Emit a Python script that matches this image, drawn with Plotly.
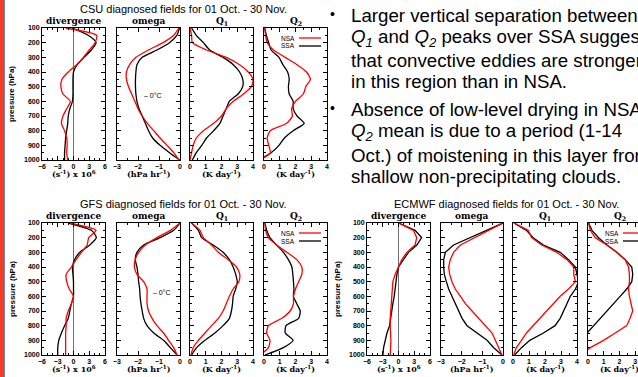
import plotly.graph_objects as go

# ---------------- data ----------------
PRESSURE = [100, 150, 200, 250, 300, 350, 400, 450, 500, 550,
            600, 650, 700, 750, 800, 850, 900, 950, 1000]

# CSU
CSU_DIV_NSA = [-1.5, 4.4, 4.1, 3.0, 1.9, 0.6, -1.0, -2.2, -2.4, -2.0, -0.6, -1.3, -2.0, -2.3, -1.7, -1.3, -1.2, -1.3, -1.1]
CSU_DIV_SSA = [-0.3, 2.8, 4.3, 3.4, 2.0, 0.7, 0.0, -0.1, -0.1, -0.1, -0.2, -0.7, -1.0, -1.1, -1.3, -1.5, -1.6, -1.7, -1.7]
CSU_OMG_NSA = [-0.05, -0.3, -0.8, -1.5, -2.1, -2.4, -2.55, -2.55, -2.45, -2.3, -2.15, -2.0, -1.8, -1.55, -1.25, -0.95, -0.62, -0.3, -0.05]
CSU_OMG_SSA = [-0.02, -0.15, -0.5, -1.1, -1.8, -2.05, -2.1, -2.12, -2.12, -2.1, -2.05, -1.95, -1.8, -1.65, -1.5, -1.3, -0.95, -0.5, -0.02]
CSU_Q1_NSA = [0.0, 0.1, 0.15, 1.05, 2.3, 3.15, 3.7, 4.0, 3.9, 3.4, 2.75, 2.3, 2.0, 1.5, 0.85, 0.4, 0.2, 0.1, 0.0]
CSU_Q1_SSA = [0.1, 0.4, 0.85, 1.25, 2.1, 2.75, 3.15, 3.35, 3.35, 3.05, 2.5, 2.3, 2.1, 1.9, 1.5, 1.05, 0.75, 0.4, 0.15]
CSU_Q2_NSA = [0.05, 0.1, 0.2, 0.6, 1.35, 2.1, 2.7, 2.95, 2.65, 2.5, 2.0, 1.75, 1.8, 1.45, 0.4, 0.2, 0.3, 0.4, -0.25]
CSU_Q2_SSA = [0.05, 0.15, 0.3, 0.45, 0.95, 1.2, 1.5, 1.6, 1.55, 1.6, 1.85, 1.85, 2.1, 2.55, 1.85, 1.3, 0.95, 0.45, -0.35]

# GFS
GFS_DIV_NSA = [-0.7, 4.3, 2.9, 2.6, 1.5, 0.5, -0.4, -1.4, -1.3, -0.8, 0.0, -0.4, -1.0, -1.4, -1.4, -1.5, -1.5, -1.5, -1.5]
GFS_DIV_SSA = [-1.0, 3.4, 4.35, 3.1, 1.2, 0.2, -0.2, -0.1, 0.0, 0.0, 0.0, -0.4, -0.7, -1.0, -1.7, -2.3, -2.8, -3.0, -3.0]
GFS_OMG_NSA = [0.0, -0.45, -1.1, -1.65, -1.97, -2.13, -2.17, -2.05, -1.73, -1.57, -1.57, -1.57, -1.5, -1.33, -1.1, -0.78, -0.54, -0.3, -0.14]
GFS_OMG_SSA = [0.0, -0.3, -0.94, -1.73, -2.05, -2.13, -2.05, -2.0, -1.97, -1.92, -1.9, -1.86, -1.8, -1.73, -1.57, -1.25, -0.78, -0.46, -0.14]
GFS_Q1_NSA = [0.1, 0.63, 0.85, 1.37, 1.8, 2.42, 2.95, 3.16, 3.1, 2.74, 2.5, 2.3, 2.1, 1.8, 1.37, 0.95, 0.53, 0.2, 0.06]
GFS_Q1_SSA = [0.1, 0.53, 0.74, 1.47, 2.1, 2.5, 2.74, 2.9, 3.0, 2.9, 2.74, 2.7, 2.63, 2.5, 2.1, 1.58, 0.95, 0.42, 0.1]
GFS_Q2_NSA = [0.06, 0.1, 0.28, 0.8, 1.45, 2.08, 2.4, 2.4, 2.2, 2.0, 1.87, 1.87, 1.66, 1.13, 0.28, 0.17, 0.38, 0.28, -0.25]
GFS_Q2_SSA = [0.06, 0.17, 0.38, 0.8, 1.23, 1.55, 1.77, 1.83, 1.87, 1.9, 1.87, 2.08, 2.3, 2.2, 1.4, 1.35, 1.85, 1.23, 0.06]

# ECMWF
ECM_DIV_NSA = [0.0, 2.84, 3.47, 3.16, 1.58, 0.63, 0.0, -0.63, -1.07, -1.2, -1.33, -1.39, -1.45, -1.58, -1.58, -1.45, -1.45, -1.5, -1.58]
ECM_DIV_SSA = [0.0, 3.16, 4.4, 3.5, 1.9, 0.95, 0.0, -0.3, -0.44, -0.63, -0.82, -1.07, -1.26, -1.45, -1.7, -2.2, -2.5, -2.84, -2.97]
ECM_OMG_NSA = [0.0, -0.69, -1.42, -2.06, -2.39, -2.55, -2.63, -2.58, -2.47, -2.31, -2.06, -1.82, -1.5, -1.18, -0.85, -0.53, -0.37, -0.21, -0.05]
ECM_OMG_SSA = [0.0, -0.77, -1.58, -2.39, -2.79, -2.87, -2.87, -2.84, -2.74, -2.63, -2.47, -2.31, -2.15, -1.98, -1.74, -1.26, -0.77, -0.45, -0.05]
ECM_Q1_NSA = [0.06, 0.95, 1.16, 1.79, 2.74, 3.37, 3.8, 3.8, 3.9, 3.47, 2.95, 2.53, 2.1, 1.68, 1.26, 0.84, 0.53, 0.21, 0.04]
ECM_Q1_SSA = [0.06, 0.84, 1.26, 1.9, 2.95, 3.47, 3.9, 4.0, 4.1, 3.9, 3.58, 3.37, 3.16, 2.95, 2.63, 1.9, 1.05, 0.53, 0.1]
ECM_Q2_NSA = [0.04, 0.15, 0.46, 1.2, 1.83, 2.36, 2.57, 2.63, 2.63, 2.57, 2.63, 2.72, 2.84, 2.67, 2.46, 1.73, 0.99, 0.15, -0.48]
ECM_Q2_SSA = [0.04, 0.25, 0.67, 1.2, 1.83, 2.36, 2.78, 2.84, 2.78, 2.46, 2.04, 1.62, 1.2, 0.78, 0.36, -0.06, -0.17, -0.27, -0.38]

PANEL_TITLES = ["divergence", "omega", "Q<sub>1</sub>", "Q<sub>2</sub>"]
X_UNITS = ["(s<sup>-1</sup>) x 10<sup>6</sup>", "(hPa hr<sup>-1</sup>)", "(K day<sup>-1</sup>)", "(K day<sup>-1</sup>)"]
X_RANGES = [[-6, 6], [-3, 0], [0, 4], [0, 4]]
X_DTICK = [3, 1, 1, 1]
X_MINOR = [1, 0.5, 0.5, 0.5]
Y_TICKS = [100, 200, 300, 400, 500, 600, 700, 800, 900, 1000]
TITLE_TAIL = " diagnosed fields for 01 Oct. - 30 Nov."
BULLET_LINES = [
    "Larger vertical separation between",
    "<i>Q</i><sub><i>1</i></sub> and <i>Q</i><sub><i>2</i></sub> peaks over SSA suggest",
    "that convective eddies are stronger",
    "in this region than in NSA.",
    "Absence of low-level drying in NSA",
    "<i>Q</i><sub><i>2</i></sub> mean is due to a period (1-14",
    "Oct.) of moistening in this layer from",
    "shallow non-precipitating clouds.",
]

# ---------------- layout helpers ----------------
W, H = 638, 377
def fx(x): return x / W
def fy(y): return 1 - y / H

groups = [
    dict(name="CSU", top=28, bottom=160, title_x=183, title_y=9, ylab_x=12,
         panels=[(42, 105), (117, 180), (190, 253), (264, 327)], smooth=True,
         data=[(CSU_DIV_NSA, CSU_DIV_SSA), (CSU_OMG_NSA, CSU_OMG_SSA),
               (CSU_Q1_NSA, CSU_Q1_SSA), (CSU_Q2_NSA, CSU_Q2_SSA)]),
    dict(name="GFS", top=223, bottom=355, title_x=183, title_y=204, ylab_x=12,
         panels=[(42, 105), (117, 180), (190, 253), (264, 327)], smooth=True,
         data=[(GFS_DIV_NSA, GFS_DIV_SSA), (GFS_OMG_NSA, GFS_OMG_SSA),
               (GFS_Q1_NSA, GFS_Q1_SSA), (GFS_Q2_NSA, GFS_Q2_SSA)]),
    dict(name="ECMWF", top=223, bottom=355, title_x=506, title_y=204, ylab_x=337,
         panels=[(367, 430), (441, 503), (513, 577), (588, 651)], smooth=False,
         data=[(ECM_DIV_NSA, ECM_DIV_SSA), (ECM_OMG_NSA, ECM_OMG_SSA),
               (ECM_Q1_NSA, ECM_Q1_SSA), (ECM_Q2_NSA, ECM_Q2_SSA)]),
]

fig = go.Figure()
layout = dict(width=W, height=H, margin=dict(l=0, r=0, t=0, b=0, autoexpand=False),
              paper_bgcolor="white", plot_bgcolor="white", showlegend=False)
annotations = []
shapes = []

TICKFONT = dict(family="Liberation Sans", size=7, color="black", weight="bold")
SERIF = "DejaVu Serif"

idx = 0
for g in groups:
    for k, (x0, x1) in enumerate(g["panels"]):
        idx += 1
        xr = list(X_RANGES[k])
        clipped = x1 > W
        if clipped:
            xr = [X_RANGES[k][0], X_RANGES[k][0] + (X_RANGES[k][1] - X_RANGES[k][0]) * (W - x0) / (x1 - x0)]
            xdom = [fx(x0), 1.0]
        else:
            xdom = [fx(x0), fx(x1)]
        ax = dict(domain=xdom, range=xr, anchor=f"y{idx}", showline=True, linecolor="black",
                  linewidth=1, mirror="allticks", ticks="inside", ticklen=4, tickcolor="black",
                  dtick=X_DTICK[k], tick0=0, showgrid=False, tickfont=TICKFONT, automargin=False,
                  zeroline=(k == 0), zerolinecolor="#707070", zerolinewidth=1,
                  minor=dict(ticks="inside", ticklen=2, dtick=X_MINOR[k], tickcolor="black", showgrid=False))
        ay = dict(domain=[fy(g["bottom"]), fy(g["top"])], range=[1000, 100], anchor=f"x{idx}",
                  showline=True, linecolor="black", linewidth=1, automargin=False,
                  mirror=(False if clipped else "allticks"), ticks="inside", ticklen=4,
                  tickcolor="black", tickvals=Y_TICKS, showticklabels=(k == 0), tickfont=TICKFONT,
                  showgrid=False, zeroline=False,
                  minor=dict(ticks="inside", ticklen=2, dtick=50, tickcolor="black", showgrid=False))
        layout[f"xaxis{idx}"] = ax
        layout[f"yaxis{idx}"] = ay
        nsa, ssa = g["data"][k]
        shape = "spline" if g["smooth"] else "linear"
        fig.add_trace(go.Scatter(x=ssa, y=PRESSURE, xaxis=f"x{idx}", yaxis=f"y{idx}", mode="lines",
                                 line=dict(color="black", width=1.3, shape=shape, smoothing=0.6)))
        fig.add_trace(go.Scatter(x=nsa, y=PRESSURE, xaxis=f"x{idx}", yaxis=f"y{idx}", mode="lines",
                                 line=dict(color="red", width=1.3, shape=shape, smoothing=0.6)))
        cx = (x0 + x1) / 2
        annotations.append(dict(x=fx(cx), y=fy(g["top"] - 7), xref="paper", yref="paper",
                                text=f"<b>{PANEL_TITLES[k]}</b>", showarrow=False,
                                font=dict(family=SERIF, size=9, color="black"),
                                xanchor="center", yanchor="middle"))
        annotations.append(dict(x=fx(cx), y=fy(g["bottom"] + 14), xref="paper", yref="paper",
                                text=f"<b>{X_UNITS[k]}</b>", showarrow=False,
                                font=dict(family=SERIF, size=8, color="black"),
                                xanchor="center", yanchor="middle"))
        if k == 3:
            lx = x0 + 15
            for j, (lab, col) in enumerate([("NSA", "red"), ("SSA", "black")]):
                yy = g["top"] + 10 + 8 * j
                annotations.append(dict(x=fx(lx), y=fy(yy), xref="paper", yref="paper", text=lab,
                                        showarrow=False, font=dict(family="Liberation Sans", size=6.5, color="black"),
                                        xanchor="left", yanchor="middle"))
                shapes.append(dict(type="line", xref="paper", yref="paper", x0=fx(lx + 20),
                                   x1=min(fx(lx + 42), 1.0), y0=fy(yy), y1=fy(yy),
                                   line=dict(color=col, width=1.3)))
    annotations.append(dict(x=fx(g["title_x"]), y=fy(g["title_y"]), xref="paper", yref="paper",
                            text=g["name"] + TITLE_TAIL, showarrow=False,
                            font=dict(family="Liberation Sans", size=11, color="black"),
                            xanchor="center", yanchor="middle"))
    annotations.append(dict(x=fx(g["ylab_x"]), y=fy((g["top"] + g["bottom"]) / 2), xref="paper", yref="paper",
                            text="<b>pressure (hPa)</b>", showarrow=False, textangle=-90,
                            font=dict(family="Liberation Sans", size=8, color="black"),
                            xanchor="center", yanchor="middle"))

for (xx, yy) in [(142, 96), (151, 292)]:
    annotations.append(dict(x=fx(xx), y=fy(yy), xref="paper", yref="paper", text="– 0°C",
                            showarrow=False, font=dict(family="Liberation Sans", size=7, color="black"),
                            xanchor="left", yanchor="middle"))

line_y = [16, 38, 60, 82, 110, 132, 155, 177]
for t, yy in zip(BULLET_LINES, line_y):
    annotations.append(dict(x=fx(349), y=fy(yy), xref="paper", yref="paper", text=t,
                            showarrow=False, font=dict(family="Liberation Sans", size=18.7, color="black"),
                            xanchor="left", yanchor="middle"))
for yy in [14, 108]:
    annotations.append(dict(x=fx(332), y=fy(yy), xref="paper", yref="paper", text="•",
                            showarrow=False, font=dict(family="Liberation Sans", size=14, color="black"),
                            xanchor="center", yanchor="middle"))

shapes.append(dict(type="rect", xref="paper", yref="paper", x0=0, x1=fx(4), y0=0, y1=1,
                   fillcolor="#F53C22", line=dict(width=0)))
shapes.append(dict(type="line", xref="paper", yref="paper", x0=fx(4.5), x1=fx(4.5), y0=0, y1=1,
                   line=dict(color="#6C86C8", width=1)))

layout["annotations"] = annotations
layout["shapes"] = shapes
fig.update_layout(**layout)
fig.write_html("out.html", config={"displayModeBar": False},
               post_script="document.body.style.margin='0';document.body.style.overflow='hidden';")
